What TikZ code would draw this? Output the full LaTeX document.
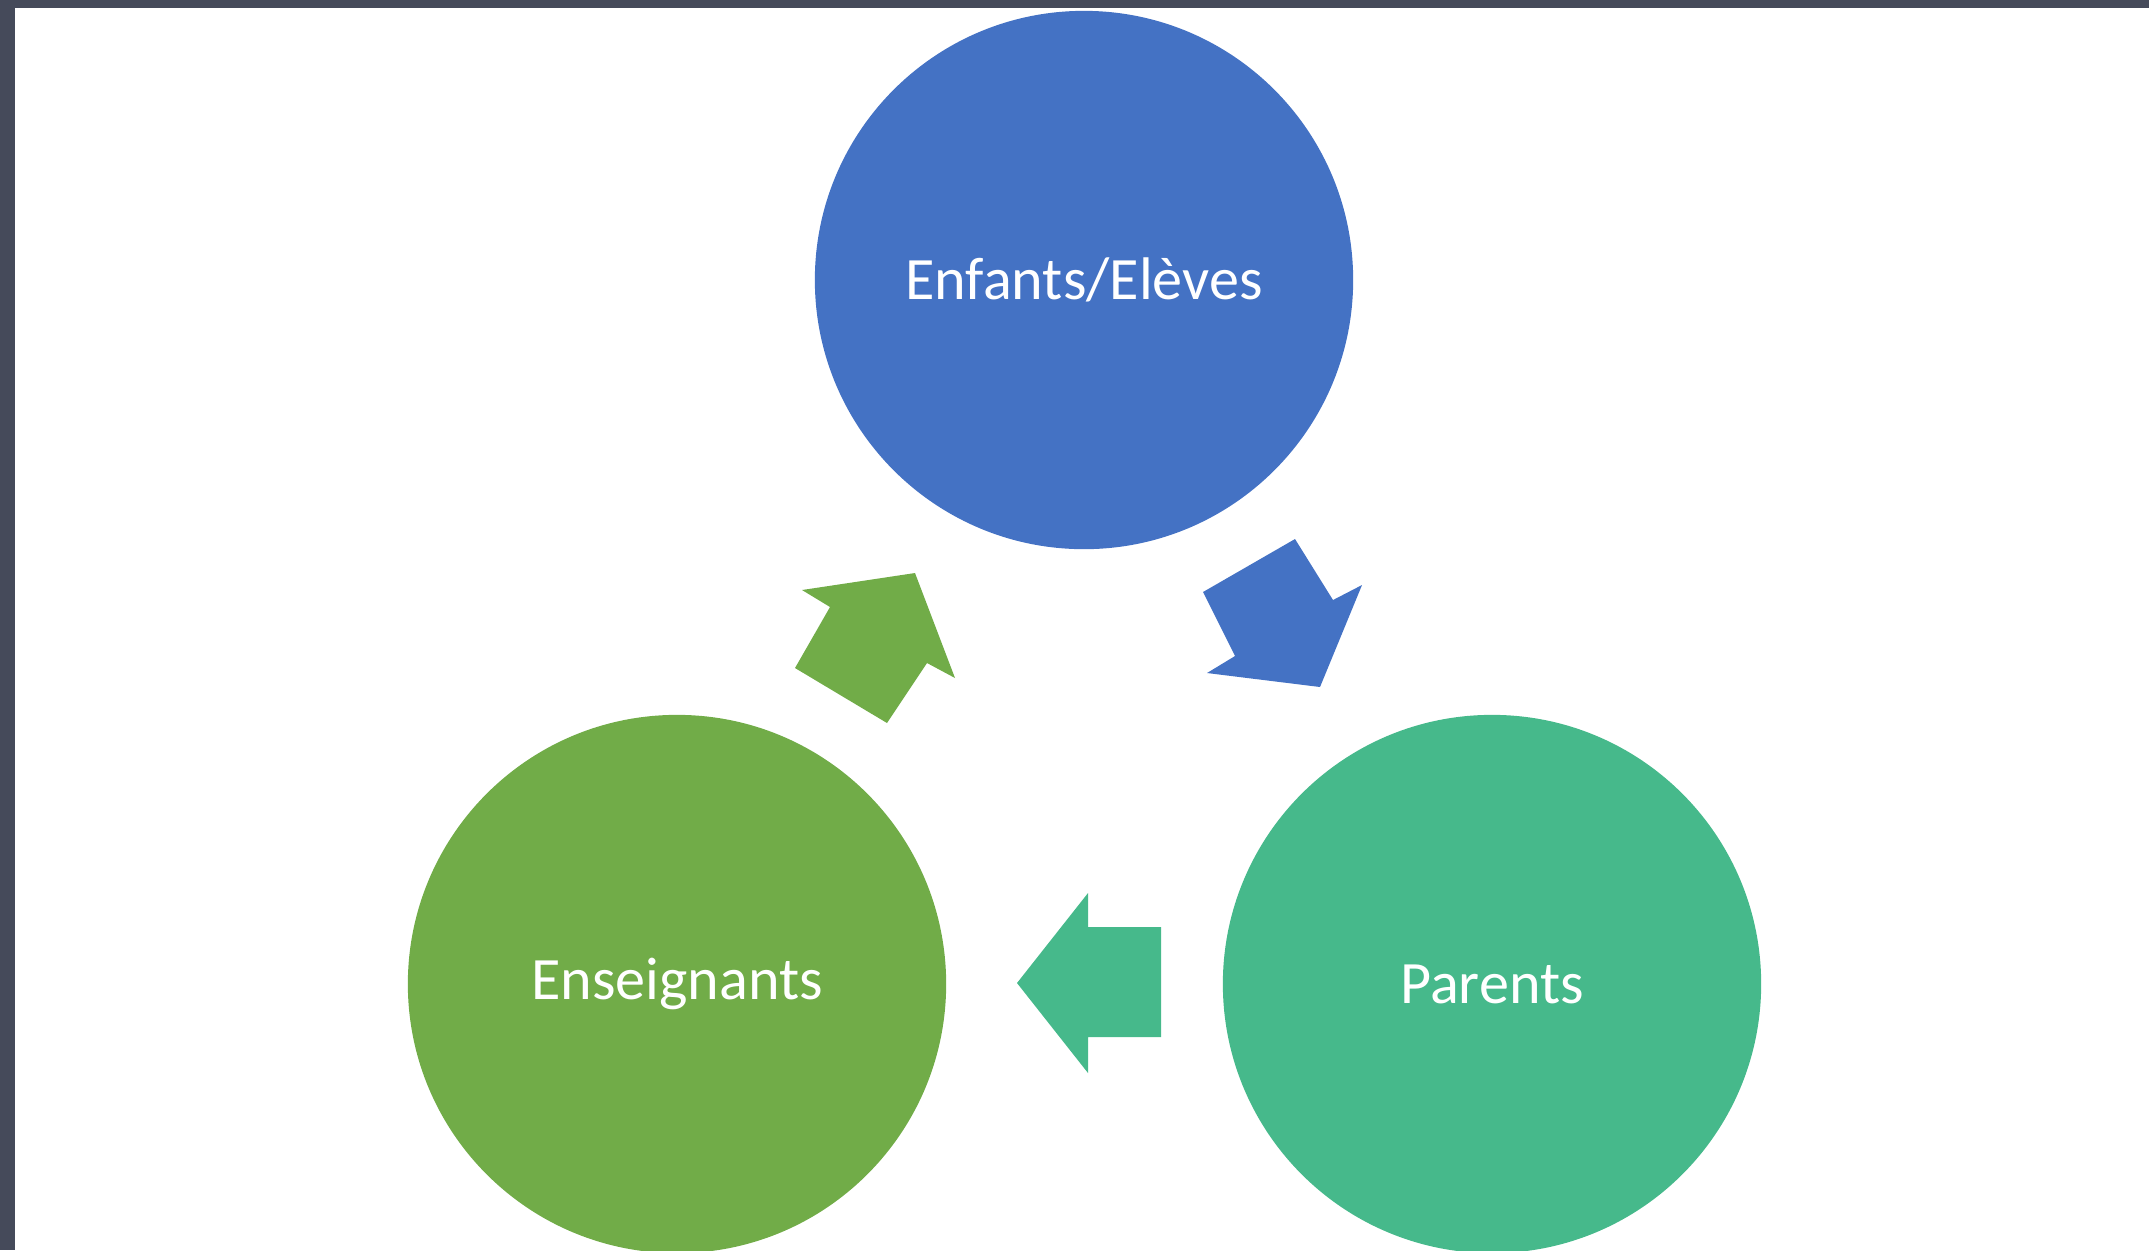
\documentclass[tikz,border=0pt]{standalone}
\usepackage{fontspec}
\setmainfont{Carlito}
\usetikzlibrary{positioning}
\definecolor{pupilcolor}{HTML}{4472C4}
\definecolor{parentcolor}{HTML}{46B98B}
\definecolor{teachercolor}{HTML}{71AC48}
\definecolor{framecolor}{HTML}{454A5A}

\begin{document}
\begin{tikzpicture}[x = 0.01cm, y = -0.01cm,
                    actor/.style = {circle,
                                    draw = none,
                                    text = white,
                                    font = \fontsize{17.1}{20}\selectfont,
                                    minimum size = 5.38cm,
                                    inner sep = 0pt}]

% page and dark frame
\useasboundingbox (0,0) rectangle (2149,1250);
\fill[framecolor] (0,0) rectangle (2149,8);
\fill[framecolor] (0,0) rectangle (15,1250);

\node[actor, fill = pupilcolor]   (E) at (1084,280) {Enfants/Elèves};
\node[actor, fill = teachercolor] (T) at (677,984)  {Enseignants};
\node[actor, fill = parentcolor]  (P) at (1492,984) {Parents};

% block arrows
\fill[pupilcolor] (1203,592) -- (1295,539) -- (1333,600) -- (1362,585)
                  -- (1320,687) -- (1207,673) -- (1235,656) -- cycle;
\fill[parentcolor] (1017,983) -- (1088,893) -- (1088,927) -- (1161,927)
                   -- (1161,1037) -- (1088,1037) -- (1088,1073) -- cycle;
\fill[teachercolor] (887,723) -- (795,668) -- (830,607) -- (802,590)
                    -- (915,573) -- (955,678) -- (927,663) -- cycle;

\end{tikzpicture}
\end{document}
